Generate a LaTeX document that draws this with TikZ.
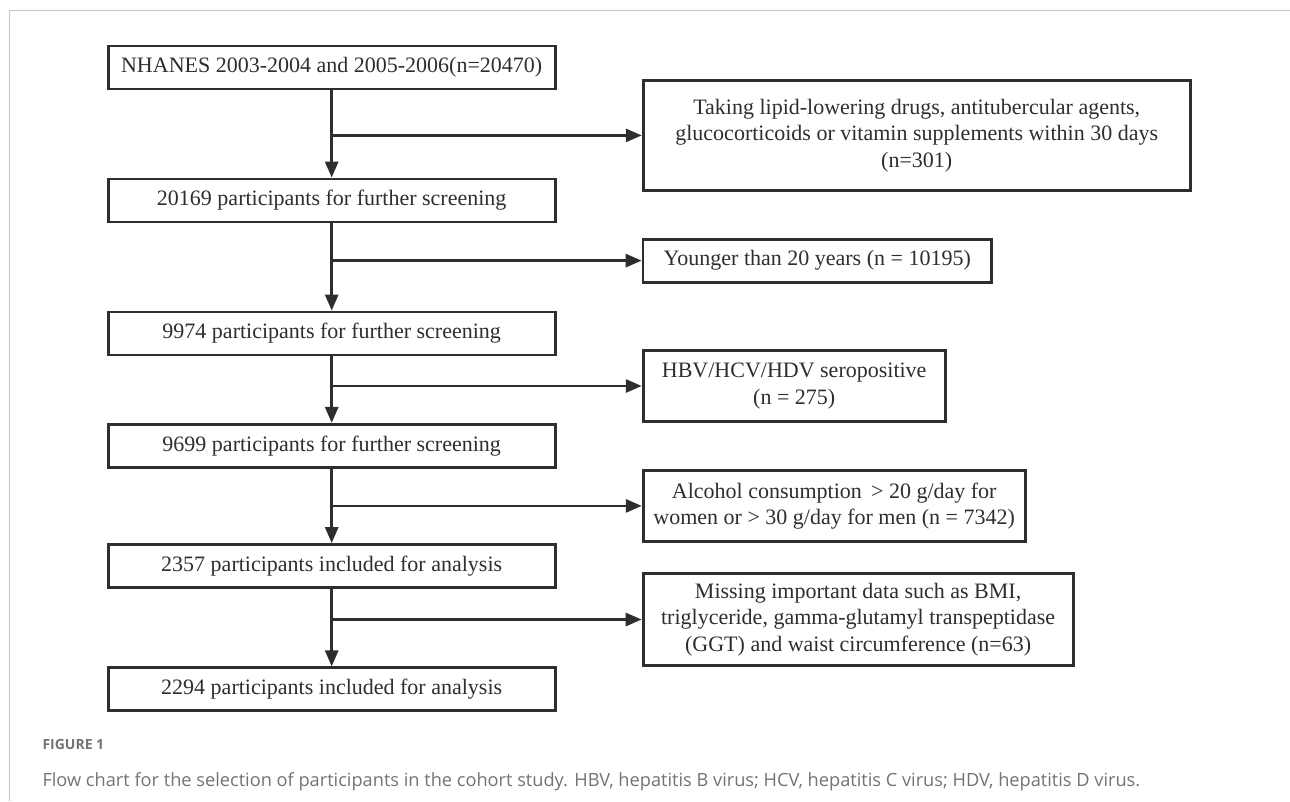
\documentclass[tikz,border=0pt]{standalone}
\usepackage{fontspec}
\setmainfont{Liberation Serif}
\newfontfamily\capfont{Open Sans}
\usetikzlibrary{arrows.meta}
\definecolor{ink}{HTML}{2E2E2E}
\definecolor{muted}{HTML}{737373}
\definecolor{rule}{HTML}{C4C4C4}
\tikzset{
  box/.style={
    draw=ink, line width=2.8pt, fill=white, text=ink,
    inner sep=0pt, align=center,
    font=\fontsize{22}{26.5}\selectfont
  },
  arrow/.style={-{Triangle[length=16pt,width=13pt]}, line width=2.8pt, draw=ink}
}
\begin{document}
\begin{tikzpicture}[x=1pt, y=-1pt,
        stage/.style={box, minimum width=447pt, minimum height=43pt},
        excl/.style={box, minimum height=43pt}
      ]
        \useasboundingbox (0,0) rectangle (1290,801);
        \draw[rule, line width=1.2pt] (9.3,801) -- (9.3,10.5) -- (1290,10.5);
        \node[stage] (n1) at (331.7,67.5) {NHANES 2003-2004 and 2005-2006(n=20470)};
        \node[stage] (n2) at (331.7,200.5) {20169 participants for further screening};
        \node[stage] (n3) at (331.7,333.5) {9974 participants for further screening};
        \node[stage] (n4) at (331.7,445.8) {9699 participants for further screening};
        \node[stage] (n5) at (331.7,566) {2357 participants included for analysis};
        \node[stage] (n6) at (331.7,689.3) {2294 participants included for analysis};
        \node[excl, minimum width=547pt, minimum height=109.5pt] (e1) at (916.7,135.4) {Taking lipid-lowering drugs, antitubercular agents,\\glucocorticoids or vitamin supplements within 30 days\\(n=301)};
        \node[excl, minimum width=348.5pt] (e2) at (817.3,260.6) {Younger than 20 years (n = 10195)};
        \node[excl, minimum width=302pt, minimum height=71pt] (e3) at (794.2,386) {HBV/HCV/HDV seropositive\\(n = 275)};
        \node[excl, minimum width=382pt, minimum height=71pt] (e4) at (834.2,505.9) {Alcohol consumption \,> 20 g/day for\\women or > 30 g/day for men (n = 7342)};
        \node[excl, minimum width=430pt, minimum height=92pt] (e5) at (858.1,619.5) {Missing important data such as BMI,\\triglyceride, gamma-glutamyl transpeptidase\\(GGT) and waist circumference (n=63)};
        \draw[arrow] (n1.south) -- (n2.north);
        \draw[arrow] (n2.south) -- (n3.north);
        \draw[arrow] (n3.south) -- (n4.north);
        \draw[arrow] (n4.south) -- (n5.north);
        \draw[arrow] (n5.south) -- (n6.north);
        \draw[arrow] (e1.west -| n1.south) -- (e1.west);
        \draw[arrow] (e2.west -| n2.south) -- (e2.west);
        \draw[arrow] (e3.west -| n3.south) -- (e3.west);
        \draw[arrow] (e4.west -| n4.south) -- (e4.west);
        \draw[arrow] (e5.west -| n5.south) -- (e5.west);
        \node[anchor=base west, inner sep=0pt, text=muted, font=\capfont\bfseries\fontsize{14}{16}\selectfont] (fig) at (42.3,749.3) {FIGURE 1};
        \node[anchor=base west, inner sep=0pt, text=muted, font=\capfont\fontsize{18.2}{21}\selectfont] (cap) at (42.3,786) {Flow chart for the selection of participants in the cohort study. HBV, hepatitis B virus; HCV, hepatitis C virus; HDV, hepatitis D virus.};
      \end{tikzpicture}
\end{document}
